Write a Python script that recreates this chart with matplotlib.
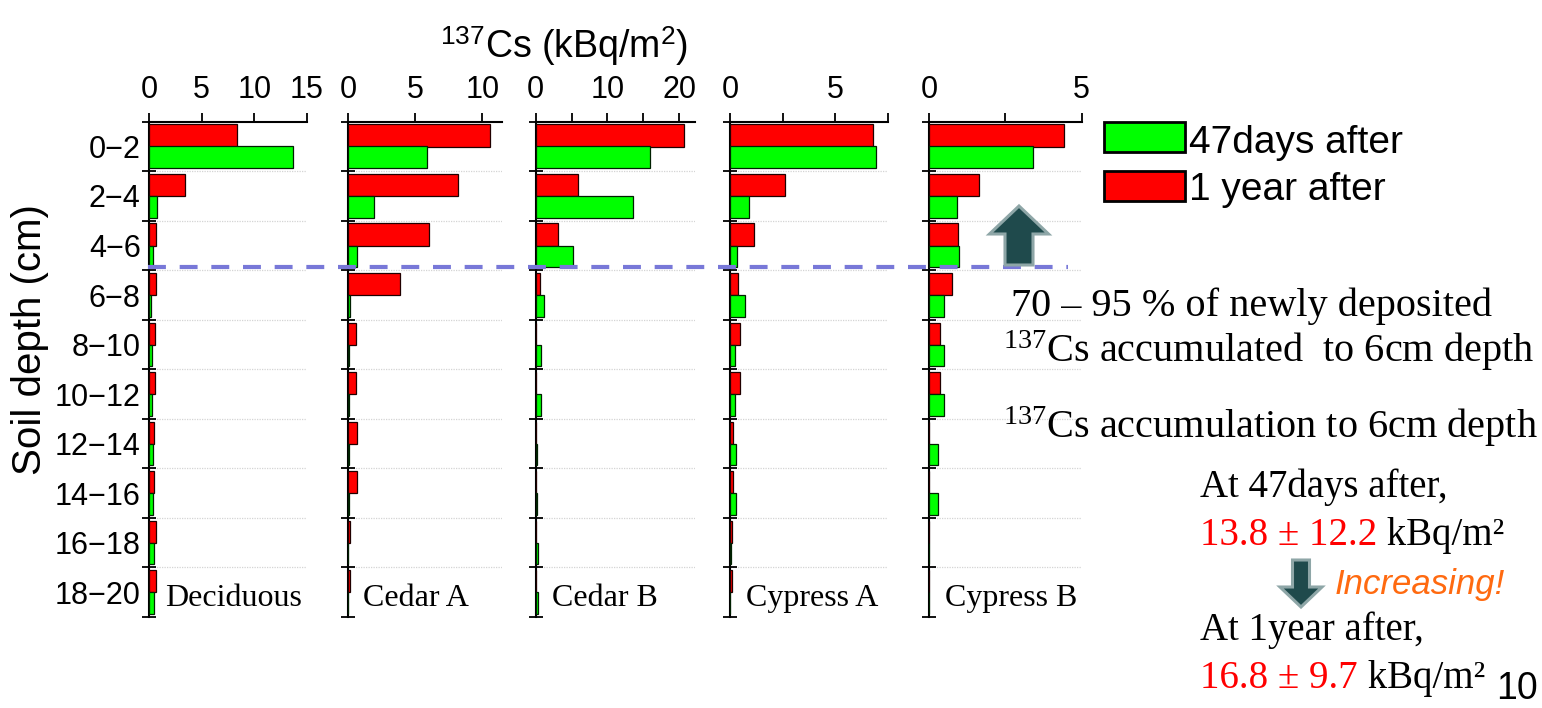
import matplotlib
matplotlib.use("Agg")
import matplotlib.pyplot as plt
import numpy as np
from matplotlib.lines import Line2D
from matplotlib.patches import FancyArrow, Rectangle

plt.rcParams["font.family"] = ["Liberation Sans", "DejaVu Sans"]
plt.rcParams["mathtext.fontset"] = "custom"
plt.rcParams["mathtext.rm"] = "Liberation Serif"
plt.rcParams["mathtext.sf"] = "Liberation Sans"
plt.rcParams["mathtext.it"] = "Liberation Serif:italic"

# soil depth layers (cm)
depth_labels = ["0−2", "2−4", "4−6", "6−8", "8−10",
                "10−12", "12−14", "14−16", "16−18", "18−20"]
site_names = ["Deciduous", "Cedar A", "Cedar B", "Cypress A", "Cypress B"]

# 137Cs inventory per layer, kBq/m2
deciduous_47d = [13.65, 0.75, 0.38, 0.15, 0.28, 0.3, 0.4, 0.4, 0.5, 0.5]
deciduous_1y = [8.4, 3.4, 0.65, 0.7, 0.6, 0.6, 0.5, 0.5, 0.7, 0.7]
cedar_a_47d = [5.85, 1.95, 0.7, 0.17, 0.05, 0.05, 0.05, 0.05, 0.03, 0.03]
cedar_a_1y = [10.6, 8.2, 6.05, 3.9, 0.62, 0.62, 0.7, 0.7, 0.17, 0.17]
cedar_b_47d = [15.9, 13.6, 5.25, 1.1, 0.7, 0.7, 0.25, 0.25, 0.3, 0.3]
cedar_b_1y = [20.6, 5.9, 3.07, 0.6, 0.1, 0.1, 0.05, 0.05, 0.05, 0.05]
cypress_a_47d = [6.95, 0.92, 0.35, 0.7, 0.24, 0.24, 0.27, 0.27, 0.03, 0.02]
cypress_a_1y = [6.78, 2.62, 1.13, 0.37, 0.48, 0.48, 0.13, 0.13, 0.08, 0.08]
cypress_b_47d = [3.39, 0.92, 0.96, 0.49, 0.47, 0.47, 0.3, 0.3, 0, 0]
cypress_b_1y = [4.41, 1.62, 0.95, 0.75, 0.35, 0.35, 0, 0, 0, 0]

after_47d = [deciduous_47d, cedar_a_47d, cedar_b_47d, cypress_a_47d, cypress_b_47d]
after_1y = [deciduous_1y, cedar_a_1y, cedar_b_1y, cypress_a_1y, cypress_b_1y]

x_max = [15, 11.45, 22.2, 7.5, 5]
x_ticks = [[0, 5, 10, 15], [0, 5, 10], [0, 5, 10, 15, 20], [0, 2.5, 5, 7.5], [0, 2.5, 5]]
x_ticklabels = [["0", "5", "10", "15"], ["0", "5", "10"], ["0", "", "10", "", "20"],
                ["0", "", "5", ""], ["0", "", "5"]]

W, H = 1542, 708
fig = plt.figure(figsize=(W / 100, H / 100), dpi=100)

# panel placement in pixels: left edge, width
panel_left = [149, 348, 535.7, 730, 929.3]
panel_width = [158, 153.7, 159.3, 158, 152.4]
top_px, bottom_px = 121.7, 617

green = "#00ff00"
red = "#ff0000"
rows = np.arange(len(depth_labels))

for i, name in enumerate(site_names):
    ax = fig.add_axes([panel_left[i] / W, (H - bottom_px) / H,
                       panel_width[i] / W, (bottom_px - top_px) / H])
    ax.barh(rows + 0.28, after_1y[i], height=0.45, color=red,
            edgecolor="#200000", linewidth=0.9, zorder=3)
    ax.barh(rows + 0.72, after_47d[i], height=0.44, color=green,
            edgecolor="#002000", linewidth=0.9, zorder=3)
    ax.set_xlim(0, x_max[i])
    ax.set_ylim(len(depth_labels), 0)

    for b in range(1, len(depth_labels)):
        ax.axhline(b, color="#d4d4d4", lw=0.9, ls=(0, (1, 1)), zorder=1)

    for side in ["right", "bottom"]:
        ax.spines[side].set_visible(False)
    for side in ["left", "top"]:
        ax.spines[side].set_linewidth(1.5)

    ax.xaxis.tick_top()
    ax.set_xticks(x_ticks[i])
    ax.set_xticklabels(x_ticklabels[i])
    ax.tick_params(axis="x", direction="out", length=6.3, width=1.3,
                   labelsize=22, pad=6)

    ax.set_yticks(np.arange(len(depth_labels) + 1))
    ax.set_yticklabels([])
    ax.set_yticks(rows + 0.5, minor=True)
    if i == 0:
        ax.set_yticklabels(depth_labels, minor=True)
    ax.tick_params(axis="y", which="major", direction="inout", length=10, width=1.3)
    ax.tick_params(axis="y", which="minor", length=0, labelsize=22, pad=6)

    ax.text(0.1, 9.62, name, transform=ax.get_yaxis_transform(),
            family="Liberation Serif", fontsize=23, va="center", ha="left")

fig.text(564 / W, 1 - 58 / H, r"$^{\mathsf{137}}$Cs (kBq/m$^{\mathsf{2}}$)",
         fontsize=27, ha="center", va="baseline")
fig.text(30 / W, 1 - 340 / H, "Soil depth (cm)", rotation=90, fontsize=29,
         ha="center", va="center")

# overlay in pixel coordinates for the notes on the right
ov = fig.add_axes([0, 0, 1, 1])
ov.set_xlim(0, W)
ov.set_ylim(H, 0)
ov.axis("off")

ov.add_line(Line2D([148, 1068], [266.5, 266.5], color="#7878d8", lw=3,
                   dashes=(4.3, 3.3), zorder=2))

ov.add_patch(FancyArrow(1019, 265, 0, -59, width=28, head_width=59,
                        head_length=28, length_includes_head=True,
                        facecolor="#1f4a4c", edgecolor="#8ea6a7", lw=2.2, zorder=4))
ov.add_patch(FancyArrow(1301, 560, 0, 47, width=17, head_width=42,
                        head_length=20, length_includes_head=True,
                        facecolor="#1f4a4c", edgecolor="#8ea6a7", lw=2.2, zorder=4))

# legend boxes
ov.add_patch(Rectangle((1104, 122), 81, 30, facecolor=green, edgecolor="black", lw=2))
ov.add_patch(Rectangle((1104, 171), 81, 30, facecolor=red, edgecolor="black", lw=2))
ov.text(1189, 153, "47days after", fontsize=28, va="baseline")
ov.text(1189, 200, "1 year after", fontsize=28, va="baseline")

serif = "Liberation Serif"
fs = 28
ov.text(1011, 316, "70 – 95 % of newly deposited", family=serif, fontsize=29,
        va="baseline")
ov.text(1003, 362, r"$^{137}$Cs accumulated  to 6cm depth", family=serif, fontsize=29,
        va="baseline")
ov.text(1003, 438, r"$^{137}$Cs accumulation to 6cm depth", family=serif, fontsize=29,
        va="baseline")
ov.text(1200, 497, "At 47days after,", family=serif, fontsize=fs, va="baseline")
t1 = ov.text(1200, 545, "13.8 ± 12.2", family=serif, fontsize=fs, color=red, va="baseline")
ov.annotate(" kBq/m²", xy=(1, 0), xycoords=t1, family=serif, fontsize=fs,
            va="bottom", ha="left")
ov.text(1335, 594, "Increasing!", fontsize=25, style="italic", color="#ff6a10",
        va="baseline")
ov.text(1200, 640, "At 1year after,", family=serif, fontsize=fs, va="baseline")
t2 = ov.text(1200, 688, "16.8 ± 9.7", family=serif, fontsize=fs, color=red, va="baseline")
ov.annotate(" kBq/m²", xy=(1, 0), xycoords=t2, family=serif, fontsize=fs,
            va="bottom", ha="left")
ov.text(1517, 699, "10", fontsize=27, ha="center", va="baseline")

fig.savefig("out.png", dpi=100)
